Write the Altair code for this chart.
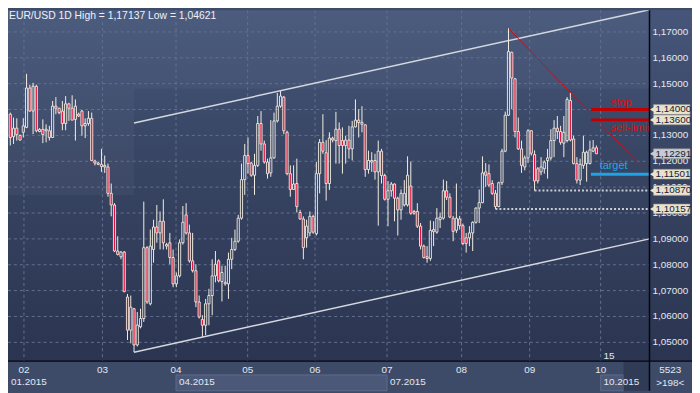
import altair as alt
import pandas as pd

# ---------------- data ----------------
OPEN = [1.1382,1.1295,1.1328,1.1300,1.1312,1.1331,1.1483,1.1394,1.1490,1.1323,
        1.1323,1.1318,1.1318,1.1292,1.1413,1.1405,1.1394,1.1346,1.1422,1.1405,
        1.1362,1.1382,1.1394,1.1337,1.1346,1.1366,1.1201,1.1188,1.1188,1.1178,
        1.1178,1.1076,1.1031,1.0853,1.0831,1.0849,1.0675,1.0547,1.0630,1.0490,
        1.0560,1.0592,1.0866,1.0649,1.0859,1.0946,1.0923,1.0968,1.0878,1.0885,
        1.0828,1.0726,1.0757,1.0885,1.0993,1.0923,1.0815,1.0777,1.0656,1.0588,
        1.0566,1.0649,1.0681,1.0757,1.0815,1.0735,1.0732,1.0726,1.0821,1.0859,
        1.0891,1.0980,1.1129,1.1222,1.1193,1.1146,1.1184,1.1346,1.1267,1.1197,
        1.1155,1.1213,1.1356,1.1413,1.1448,1.1312,1.1152,1.1091,1.1114,1.1002,
        1.0977,1.0904,1.0923,1.0987,1.0920,1.1152,1.1273,1.1233,1.1114,1.1289,
        1.1280,1.1324,1.1280,1.1261,1.1282,1.1248,1.1333,1.1359,1.1343,1.1341,
        1.1168,1.1197,1.1203,1.1159,1.1239,1.1145,1.1053,1.1086,1.1112,1.1057,
        1.1012,1.1031,1.1031,1.1104,1.1006,1.1006,1.0949,1.0872,1.0831,1.0824,
        1.0936,1.0926,1.0974,1.0980,1.1086,1.1061,1.0980,1.0933,1.0977,1.0951,
        1.0904,1.0904,1.0923,1.0964,1.1019,1.1040,1.1159,1.1152,1.1114,1.1076,
        1.1025,1.1117,1.1239,1.1378,1.1621,1.1519,1.1315,1.1248,1.1178,1.1213,
        1.1318,1.1226,1.1171,1.1159,1.1171,1.1203,1.1213,1.1280,1.1328,1.1315,
        1.1270,1.1280,1.1435,1.1286,1.1191,1.1127,1.1184,1.1191,1.1191,1.1239,
        1.1252]
HIGH = [1.1388,1.1369,1.1366,1.1303,1.1366,1.1538,1.1496,1.1503,1.1496,1.1328,
        1.1362,1.1343,1.1337,1.1433,1.1448,1.1407,1.1433,1.1452,1.1426,1.1455,
        1.1439,1.1388,1.1398,1.1366,1.1394,1.1388,1.1206,1.1197,1.1248,1.1222,
        1.1191,1.1114,1.1038,1.0910,1.0853,1.0853,1.0687,1.0681,1.0633,1.0617,
        1.0630,1.1044,1.0872,1.0936,1.0974,1.1031,1.1006,1.1053,1.0885,1.0923,
        1.0859,1.0770,1.0898,1.1027,1.1038,1.0955,1.0923,1.0802,1.0681,1.0605,
        1.0668,1.0707,1.0821,1.0853,1.0821,1.0796,1.0796,1.0847,1.0904,1.0936,
        1.0993,1.1191,1.1267,1.1292,1.1197,1.1229,1.1375,1.1394,1.1280,1.1210,
        1.1359,1.1388,1.1464,1.1471,1.1452,1.1318,1.1184,1.1184,1.1210,1.1012,
        1.0987,1.0974,1.1006,1.0993,1.1197,1.1286,1.1382,1.1282,1.1312,1.1295,
        1.1391,1.1350,1.1331,1.1299,1.1337,1.1356,1.1439,1.1401,1.1413,1.1343,
        1.1241,1.1235,1.1229,1.1280,1.1248,1.1152,1.1124,1.1120,1.1114,1.1063,
        1.1091,1.1127,1.1219,1.1199,1.1012,1.1038,1.0961,1.0878,1.0872,1.0971,
        1.0968,1.1019,1.1002,1.1129,1.1124,1.1076,1.0989,1.1114,1.0989,1.0959,
        1.0923,1.0949,1.0968,1.1022,1.1091,1.1219,1.1193,1.1188,1.1127,1.1089,
        1.1121,1.1248,1.1392,1.1714,1.1624,1.1522,1.1369,1.1280,1.1222,1.1324,
        1.1320,1.1242,1.1178,1.1216,1.1203,1.1248,1.1324,1.1359,1.1375,1.1337,
        1.1375,1.1448,1.1464,1.1299,1.1216,1.1210,1.1299,1.1241,1.1280,1.1282,
        1.1261]
LOW = [1.1261,1.1267,1.1280,1.1280,1.1292,1.1328,1.1392,1.1305,1.1312,1.1312,
       1.1270,1.1273,1.1280,1.1290,1.1382,1.1382,1.1320,1.1320,1.1356,1.1359,
       1.1280,1.1371,1.1299,1.1290,1.1337,1.1201,1.1184,1.1185,1.1159,1.1155,
       1.1063,1.0987,1.0849,1.0836,1.0821,1.0694,1.0509,1.0496,1.0462,1.0484,
       1.0554,1.0579,1.0649,1.0643,1.0808,1.0885,1.0859,1.0859,1.0859,1.0802,
       1.0713,1.0713,1.0751,1.0878,1.0917,1.0808,1.0770,1.0636,1.0592,1.0522,
       1.0528,1.0566,1.0605,1.0732,1.0732,1.0658,1.0719,1.0668,1.0783,1.0853,
       1.0885,1.0974,1.1070,1.1152,1.1140,1.1070,1.1178,1.1241,1.1191,1.1133,
       1.1140,1.1210,1.1350,1.1407,1.1305,1.1146,1.1063,1.1089,1.1002,1.0974,
       1.0821,1.0866,1.0910,1.0920,1.0913,1.1076,1.1229,1.1048,1.1089,1.1273,
       1.1191,1.1191,1.1152,1.1191,1.1210,1.1203,1.1331,1.1292,1.1312,1.1140,
       1.1152,1.1159,1.1129,1.0951,1.1114,1.1048,1.0949,1.1063,1.0968,1.0913,
       1.0974,1.1025,1.1025,1.0993,1.0993,1.0942,1.0859,1.0824,1.0808,1.0815,
       1.0872,1.0920,1.0942,1.0974,1.1050,1.0980,1.0891,1.0923,1.0936,1.0875,
       1.0847,1.0872,1.0853,1.0959,1.0961,1.1038,1.1101,1.1101,1.1070,1.1016,
       1.1022,1.1108,1.1235,1.1375,1.1401,1.1292,1.1244,1.1155,1.1165,1.1193,
       1.1222,1.1087,1.1114,1.1146,1.1152,1.1133,1.1203,1.1216,1.1286,1.1264,
       1.1216,1.1273,1.1277,1.1188,1.1114,1.1108,1.1171,1.1121,1.1188,1.1235,
       1.1229]
CLOSE = [1.1292,1.1328,1.1303,1.1282,1.1337,1.1483,1.1394,1.1490,1.1318,1.1315,
         1.1303,1.1324,1.1292,1.1413,1.1405,1.1388,1.1346,1.1422,1.1405,1.1359,
         1.1413,1.1375,1.1337,1.1346,1.1366,1.1203,1.1193,1.1193,1.1180,1.1184,
         1.1076,1.1031,1.0853,1.0840,1.0849,1.0696,1.0547,1.0636,1.0490,1.0567,
         1.0592,1.0866,1.0656,1.0872,1.0946,1.0923,1.0968,1.0885,1.0872,1.0828,
         1.0726,1.0757,1.0885,1.0964,1.0923,1.0815,1.0777,1.0656,1.0598,1.0566,
         1.0649,1.0681,1.0757,1.0802,1.0738,1.0770,1.0726,1.0821,1.0859,1.0891,
         1.0980,1.1129,1.1222,1.1191,1.1146,1.1184,1.1346,1.1267,1.1197,1.1152,
         1.1213,1.1356,1.1413,1.1452,1.1318,1.1152,1.1091,1.1112,1.1025,1.0977,
         1.0866,1.0949,1.0987,1.0926,1.1152,1.1273,1.1239,1.1114,1.1290,1.1282,
         1.1324,1.1261,1.1261,1.1282,1.1248,1.1333,1.1359,1.1350,1.1350,1.1168,
         1.1203,1.1203,1.1159,1.1239,1.1145,1.1053,1.1086,1.1112,1.1057,1.1012,
         1.1076,1.1076,1.1146,1.0999,1.0999,1.0949,1.0872,1.0828,1.0824,1.0933,
         1.0928,1.0980,1.0984,1.1086,1.1061,1.0984,1.0929,1.0980,1.0951,1.0882,
         1.0882,1.0923,1.0964,1.1019,1.1040,1.1155,1.1146,1.1108,1.1076,1.1025,
         1.1117,1.1239,1.1378,1.1624,1.1522,1.1315,1.1248,1.1184,1.1213,1.1318,
         1.1231,1.1124,1.1124,1.1178,1.1197,1.1213,1.1280,1.1328,1.1315,1.1273,
         1.1312,1.1439,1.1282,1.1191,1.1127,1.1188,1.1235,1.1235,1.1244,1.1252,
         1.1229]

Y_TICKS = [1.05, 1.06, 1.07, 1.08, 1.09, 1.10, 1.11, 1.12, 1.13, 1.14, 1.15, 1.16, 1.17]
# axis labels that stay visible (1,14000 sits fully under its price tag)
Y_LABELS = [1.05, 1.06, 1.07, 1.08, 1.09, 1.10, 1.11, 1.12, 1.13, 1.15, 1.16, 1.17]
MONTH_POS = [4.2, 28.3, 50.9, 72.9, 93.6, 115.7, 138.6, 159.5, 181.3]
MONTH_LABELS = ["02", "03", "04", "05", "06", "07", "08", "09", "10"]
QUARTER_POS = [-0.7, 50.9, 115.7, 181.3]
QUARTER_LABELS = ["01.2015", "04.2015", "07.2015", "10.2015"]

TAG_PRICES = [1.14000, 1.13600, 1.12291, 1.11501, 1.10870, 1.10157]
TAG_KIND = ["level", "level", "last", "level", "level", "level"]

LEVEL_NAMES = ["stop", "sell-limit", "target"]
LEVEL_PRICES = [1.14000, 1.13600, 1.11501]
LEVEL_START = 178.3
SUPPORT_START = [161, 149]
SUPPORT_PRICES = [1.10870, 1.10157]

CHANNEL_X = [38, 196.3]
CHANNEL_UP = [1.1348, 1.1786]
CHANNEL_LO = [1.0462, 1.0900]
DIAG_X = [153, 196.3]
DIAG_Y = [1.1714, 1.1148]

X_MIN, X_MAX = -0.7, 196.3
Y_MIN, Y_MAX = 1.04274, 1.17839

W, H = 649, 355
RP, BP = 43, 30
FONT = "Liberation Sans"
TXT = "#e3e8f0"

xs = alt.Scale(domain=[X_MIN, X_MAX], nice=False, zero=False)
ys = alt.Scale(domain=[Y_MIN, Y_MAX], nice=False, zero=False)


def X(f):
    return alt.X(f, type="quantitative", scale=xs, axis=None)


def X2(f):
    return alt.X2(f)


def Y(f):
    return alt.Y(f, type="quantitative", scale=ys, axis=None)


def fmt(v):
    return f"{v:.5f}".replace(".", ",")


one = pd.DataFrame({"a": [0]})

# background gradient over plot + right panel
bg = alt.Chart(one).mark_rect(
    fill={"gradient": "linear", "x1": 0, "y1": 0, "x2": 0, "y2": 1,
          "stops": [{"offset": 0, "color": "#46567a"},
                    {"offset": 0.45, "color": "#374462"},
                    {"offset": 1, "color": "#2b3551"}]},
    clip=False,
).encode(x=alt.value(0), x2=alt.value(W + RP), y=alt.value(0), y2=alt.value(H))

# lighter shading (upper zone and left zone)
shade_df = pd.DataFrame({"x0": [X_MIN, X_MIN], "x1": [X_MAX, 38],
                         "y0": [1.1480, 1.1070], "y1": [Y_MAX, 1.1480]})
shade = alt.Chart(shade_df).mark_rect(fill="#ffffff", opacity=0.035).encode(
    x=X("x0"), x2=X2("x1"), y=Y("y0"), y2=alt.Y2("y1"))

# grid
hgrid = alt.Chart(pd.DataFrame({"p": Y_TICKS})).mark_rule(
    color="#62718f", strokeDash=[3, 3], strokeWidth=1).encode(
    y=Y("p"), x=alt.value(0), x2=alt.value(W))
vgrid = alt.Chart(pd.DataFrame({"m": MONTH_POS})).mark_rule(
    color="#62718f", strokeDash=[3, 3], strokeWidth=1).encode(
    x=X("m"), y=alt.value(0), y2=alt.value(H))

# bottom quarter boxes
qbox_df = pd.DataFrame({"x0": [50.9, 181.3], "x1": [115.7, 188.3]})
qbox = alt.Chart(qbox_df).mark_rect(fill="#4b5878", stroke="#5d6b8a", strokeWidth=1,
                                    clip=False).encode(
    x=X("x0"), x2=X2("x1"), y=alt.value(H + 14), y2=alt.value(H + 30))
dark_df = pd.DataFrame({"x0": [188.3], "x1": [X_MAX]})
dark_over = alt.Chart(dark_df).mark_rect(fill="#2c3650", opacity=0.75, clip=False).encode(
    x=X("x0"), x2=X2("x1"), y=alt.value(H), y2=alt.value(H + 30))

# channel lines
chan_df = pd.DataFrame({"x0": [CHANNEL_X[0]] * 2, "x1": [CHANNEL_X[1]] * 2,
                        "y0": [CHANNEL_UP[0], CHANNEL_LO[0]],
                        "y1": [CHANNEL_UP[1], CHANNEL_LO[1]]})
channel = alt.Chart(chan_df).mark_rule(color="#d4d8e0", strokeWidth=1.5, clip=True).encode(
    x=X("x0"), x2=X2("x1"), y=Y("y0"), y2=alt.Y2("y1"))
diag_df = pd.DataFrame({"x0": [DIAG_X[0]], "x1": [DIAG_X[1]], "y0": [DIAG_Y[0]], "y1": [DIAG_Y[1]]})
diag = alt.Chart(diag_df).mark_rule(color="#c8101c", strokeWidth=1, clip=True).encode(
    x=X("x0"), x2=X2("x1"), y=Y("y0"), y2=alt.Y2("y1"))

# dotted support lines
sup_df = pd.DataFrame({"x0": SUPPORT_START, "p": SUPPORT_PRICES})
support = alt.Chart(sup_df).mark_rule(color="#c9ccd2", strokeWidth=2, strokeDash=[2, 2]).encode(
    x=X("x0"), x2=alt.value(W), y=Y("p"))

# candles
cdf = pd.DataFrame({"i": list(range(len(OPEN))), "o": OPEN, "h": HIGH, "l": LOW, "c": CLOSE})
base = alt.Chart(cdf).transform_calculate(
    top="max(datum.o, datum.c)", bot="min(datum.o, datum.c)",
    xa="datum.i - 0.33", xb="datum.i + 0.33")
WICK = "#f3eee2"
wick_up = base.mark_rule(color=WICK, strokeWidth=1).encode(
    x=X("i"), y=Y("h"), y2=alt.Y2("top"))
wick_dn = base.mark_rule(color=WICK, strokeWidth=1).encode(
    x=X("i"), y=Y("bot"), y2=alt.Y2("l"))
body = base.mark_rect(stroke=WICK, strokeWidth=0.9).encode(
    x=X("xa"), x2=X2("xb"), y=Y("top"), y2=alt.Y2("bot"),
    fill=alt.condition("datum.c < datum.o", alt.value("#e0103c"), alt.value("transparent")))

# order levels
lv_df = pd.DataFrame({"name": LEVEL_NAMES, "p": LEVEL_PRICES, "x0": [LEVEL_START] * 3,
                      "col": ["#c00000", "#c00000", "#1ea3e6"]})
levels = alt.Chart(lv_df).mark_rule(strokeWidth=3).encode(
    x=X("x0"), x2=alt.value(W), y=Y("p"), color=alt.Color("col:N", scale=None))
lbl_stop = alt.Chart(pd.DataFrame({"x": [187.6], "p": [1.14], "t": ["stop"]})).mark_text(
    font=FONT, fontSize=11, color="#e00a0a", align="center", baseline="alphabetic", dy=-4
).encode(x=X("x"), y=Y("p"), text="t:N")
lbl_sell = alt.Chart(pd.DataFrame({"x": [184.3], "p": [1.136], "t": ["sell-limit"]})).mark_text(
    font=FONT, fontSize=11, color="#e00a0a", align="left", baseline="alphabetic", dy=11
).encode(x=X("x"), y=Y("p"), text="t:N")
lbl_target = alt.Chart(pd.DataFrame({"x": [181.0], "p": [1.11501], "t": ["target"]})).mark_text(
    font=FONT, fontSize=11, color="#22a8ee", align="left", baseline="alphabetic", dy=-5
).encode(x=X("x"), y=Y("p"), text="t:N")

# right axis labels
ylab = alt.Chart(pd.DataFrame({"p": Y_LABELS, "t": [fmt(v) for v in Y_LABELS]})).mark_text(
    font=FONT, fontSize=10, color=TXT, align="left", baseline="middle", clip=False
).encode(x=alt.value(W + 3), y=Y("p"), text="t:N")

# price tags
tag_df = pd.DataFrame({"p": TAG_PRICES, "kind": TAG_KIND,
                       "t": [fmt(v) for v in TAG_PRICES]})
tag_base = alt.Chart(tag_df).transform_calculate(
    p0="datum.p - 0.0019", p1="datum.p + 0.0019")
tag_col = alt.Color("kind:N", scale=alt.Scale(domain=["level", "last"],
                                              range=["#e7e3cf", "#c6ccd6"]), legend=None)
tag_rect = tag_base.mark_rect(stroke="#8c8b80", strokeWidth=0.6, clip=False).encode(
    x=alt.value(W + 4), x2=alt.value(W + 41), y=Y("p0"), y2=alt.Y2("p1"), fill=tag_col)
tag_tip = tag_base.mark_point(shape="triangle-left", filled=True, size=38, opacity=1,
                              clip=False).encode(
    x=alt.value(W + 3), y=Y("p"), fill=tag_col)
tag_txt = tag_base.mark_text(font=FONT, fontSize=10, color="#1a2030", align="left",
                             baseline="middle", clip=False).encode(
    x=alt.value(W + 6), y=Y("p"), text="t:N")

# frame lines
frame_v = alt.Chart(one).mark_rule(color="#05070c", strokeWidth=1.5, clip=False).encode(
    x=alt.value(W), y=alt.value(0), y2=alt.value(H + BP))
frame_h = alt.Chart(one).mark_rule(color="#05070c", strokeWidth=1.5, clip=False).encode(
    x=alt.value(0), x2=alt.value(W + RP), y=alt.value(H))

# bottom labels
mlab = alt.Chart(pd.DataFrame({"m": MONTH_POS, "t": MONTH_LABELS})).mark_text(
    font=FONT, fontSize=10, color=TXT, align="center", baseline="alphabetic", clip=False
).encode(x=X("m"), y=alt.value(H + 12), text="t:N")
qlab = alt.Chart(pd.DataFrame({"m": QUARTER_POS, "t": QUARTER_LABELS})).mark_text(
    font=FONT, fontSize=10, color=TXT, align="left", baseline="alphabetic", dx=3,
    clip=False).encode(x=X("m"), y=alt.value(H + 24), text="t:N")
day15 = alt.Chart(pd.DataFrame({"m": [181.3], "t": ["15"]})).mark_text(
    font=FONT, fontSize=10, color=TXT, align="left", baseline="alphabetic", dx=3
).encode(x=X("m"), y=alt.value(H - 2), text="t:N")
rpanel = alt.Chart(pd.DataFrame({"t": ["5523", ">198<"], "yy": [H + 12, H + 25]})).mark_text(
    font=FONT, fontSize=10, color=TXT, align="center", baseline="alphabetic", clip=False
).encode(x=alt.value(W + 21), y=alt.Y("yy:Q", scale=None), text="t:N")

title = alt.Chart(pd.DataFrame({"t": ["EUR/USD 1D High = 1,17137 Low = 1,04621"]})).mark_text(
    font=FONT, fontSize=10.5, color="#eef2f8", align="left", baseline="alphabetic"
).encode(x=alt.value(1), y=alt.value(9), text="t:N")

chart = alt.layer(
    bg, shade, hgrid, vgrid, qbox, channel, diag, support,
    wick_up, wick_dn, body, levels, lbl_stop, lbl_sell, lbl_target,
    ylab, tag_rect, tag_tip, tag_txt, dark_over, frame_v, frame_h,
    mlab, qlab, day15, rpanel, title,
).properties(
    width=W, height=H,
    autosize=alt.AutoSizeParams(type="none"),
    padding={"left": 0, "top": 0, "right": RP, "bottom": BP},
    background="#3e4b68",
).configure_view(stroke=None)

chart.save("out.html", embed_options={"renderer": "svg", "actions": False})
